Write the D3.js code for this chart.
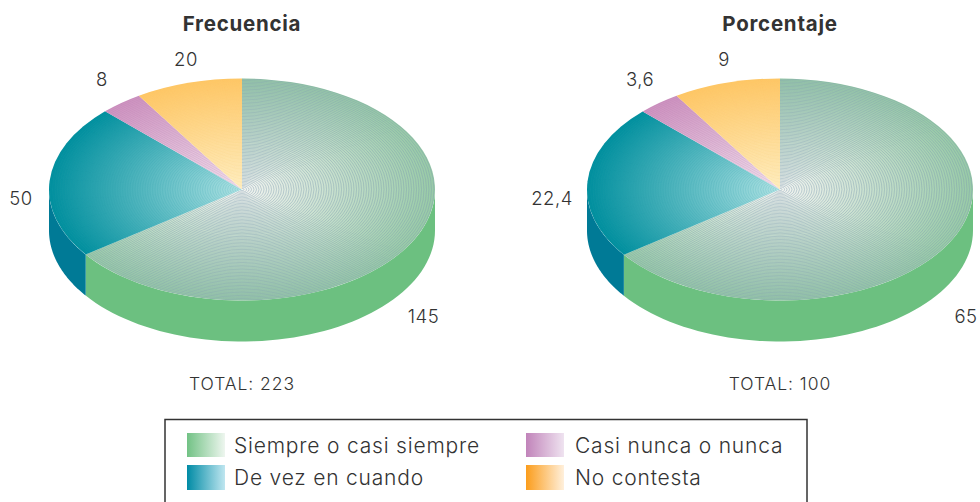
<!DOCTYPE html>
<html><head><meta charset="utf-8">
<script src="https://cdn.jsdelivr.net/npm/d3@7"></script>
<style>html,body{margin:0;padding:0;background:#fff;overflow:hidden}svg{display:block}text{font-family:Inter,"Open Sans",sans-serif;fill:#333;font-weight:300}</style>
</head><body><svg id="c" width="980" height="502"></svg>
<script>
const categories=["Siempre o casi siempre","De vez en cuando","Casi nunca o nunca","No contesta"];
const frecuencia=[145,50,8,20];
const porcentaje=[65,22.4,3.6,9];
const chartTitles=["Frecuencia","Porcentaje"];
const totals=["TOTAL: 223","TOTAL: 100"];

const outerColors=["#98cba6","#008f9e","#cf94c2","#ffc766"];
const innerColors=["#f3f4f1","#aee2e3","#f4e6f1","#fff3cc"];
const ringColors=["#7f9db2","#2a9aa8","#b57aa8","#f7c46a"];
const ringOpacity=[.62,.22,.35,.3];
const sideColors=["#6cc080","#007a96","#b57aa8","#f5a623"];
const legendColors=[["#72c285","#eef6ef"],["#008ba5","#bfe6f0"],["#c184ba","#efe3f0"],["#fb9d1c","#fff0dc"]];

const svg=d3.select("#c"), defs=svg.append("defs");
const rx=193, ry=111, depth=41, cy=189.5;
const pies=[
 {cx:242,values:frecuencia,fmt:d=>String(d),off:[[181.5,127],[-221,9],[-140,-110],[-56,-130]]},
 {cx:780,values:porcentaje,fmt:d=>String(d).replace(".",","),off:[[186,127],[-228,9],[-140,-110],[-56,-130]]}
];
const pieGen=d3.pie().sort(null).value(d=>d);
const ringRadii=d3.range(2,rx+1,2.5);

categories.forEach((c,i)=>{
  const g=defs.append("radialGradient").attr("id","rg"+i).attr("gradientUnits","userSpaceOnUse")
    .attr("cx",0).attr("cy",0).attr("r",rx);
  g.append("stop").attr("offset","0").attr("stop-color",innerColors[i]);
  g.append("stop").attr("offset","1").attr("stop-color",outerColors[i]);
  const l=defs.append("linearGradient").attr("id","lg"+i);
  l.append("stop").attr("offset","0").attr("stop-color",legendColors[i][0]);
  l.append("stop").attr("offset","1").attr("stop-color",legendColors[i][1]);
});

pies.forEach((p,pi)=>{
  const arcs=pieGen(p.values);
  const arc=d3.arc().innerRadius(0).outerRadius(rx);
  const root=svg.append("g").attr("transform",`translate(${p.cx},${cy})`);
  const sx=a=>rx*Math.sin(a), sy=a=>-ry*Math.cos(a);
  arcs.forEach((a,i)=>{
    const lo=Math.max(a.startAngle,Math.PI/2), hi=Math.min(a.endAngle,Math.PI*1.5);
    if(hi<=lo) return;
    const steps=d3.range(0,61).map(k=>lo+(hi-lo)*k/60);
    const pts=steps.map(t=>[sx(t),sy(t)]).concat(steps.slice().reverse().map(t=>[sx(t),sy(t)+depth]));
    root.append("path").attr("d",d3.line()(pts)+"Z").attr("fill",sideColors[i]);
  });
  const top=root.append("g").attr("transform",`scale(1,${ry/rx})`);
  arcs.forEach((a,i)=>{
    const id=`clip${pi}_${i}`;
    defs.append("clipPath").attr("id",id).append("path").attr("d",arc(a));
    top.append("path").attr("d",arc(a)).attr("fill",`url(#rg${i})`);
    top.append("g").attr("clip-path",`url(#${id})`)
      .selectAll("circle").data(ringRadii).join("circle")
      .attr("r",d=>d).attr("fill","none")
      .attr("stroke",ringColors[i]).attr("stroke-opacity",ringOpacity[i]).attr("stroke-width",.9);
  });
  arcs.forEach((a,i)=>{
    root.append("text").attr("x",p.off[i][0]).attr("y",p.off[i][1]+1)
      .attr("text-anchor","middle").attr("dominant-baseline","middle")
      .style("font-size","18.5px").style("letter-spacing",".5px").text(p.fmt(a.data));
  });
  svg.append("text").attr("x",p.cx).attr("y",31).attr("text-anchor","middle")
    .style("font-size","20.5px").style("font-weight","700").style("letter-spacing",".75px").text(chartTitles[pi]);
  svg.append("text").attr("x",p.cx).attr("y",390).attr("text-anchor","middle")
    .style("font-size","17.5px").style("letter-spacing",".95px").text(totals[pi]);
});

svg.append("rect").attr("x",165).attr("y",419.5).attr("width",642).attr("height",100)
  .attr("fill","#fff").attr("stroke","#333").attr("stroke-width",1.5);
const colX=d3.scalePoint().domain([0,1]).range([187,526]);
const rowY=d3.scalePoint().domain([0,1]).range([433,465]);
const textX=d3.scalePoint().domain([0,1]).range([234,575]);
[[0,0,0],[1,0,1],[2,1,0],[3,1,1]].forEach(([ci,col,row])=>{
  svg.append("rect").attr("x",colX(col)).attr("y",rowY(row)).attr("width",38).attr("height",24+(row?1:0)).attr("fill",`url(#lg${ci})`);
  svg.append("text").attr("x",textX(col)).attr("y",rowY(row)+19.5).style("font-size","21px").style("letter-spacing",".8px").text(categories[ci]);
});
</script></body></html>
